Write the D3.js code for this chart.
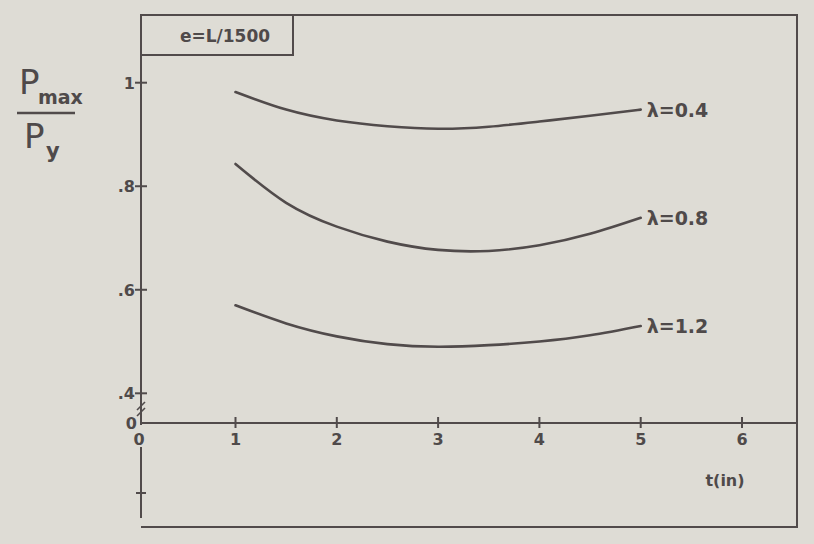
<!DOCTYPE html>
<html>
<head>
<meta charset="utf-8">
<script src="https://cdn.jsdelivr.net/npm/d3@7"></script>
<style>
  body { margin: 0; background: #dedcd5; }
  svg { display: block; }
  text { font-family: "DejaVu Sans", sans-serif; fill: #4f4a4a; }
</style>
</head>
<body>
<svg width="814" height="544"></svg>
<script>
// t (in)
var tValues = [1, 1.5, 2, 2.5, 3, 3.5, 4, 4.5, 5];
// Pmax / Py for each slenderness
var lam04 = [0.982, 0.948, 0.927, 0.916, 0.911, 0.915, 0.925, 0.936, 0.948];
var lam08 = [0.843, 0.768, 0.722, 0.693, 0.677, 0.675, 0.686, 0.708, 0.739];
var lam12 = [0.570, 0.535, 0.510, 0.495, 0.490, 0.493, 0.500, 0.512, 0.530];
var seriesLabels = ["λ=0.4", "λ=0.8", "λ=1.2"];
var xTicks = [0, 1, 2, 3, 4, 5, 6];
var yTicks = [0.4, 0.6, 0.8, 1];
var yTickLabels = [".4", ".6", ".8", "1"];
var boxLabel = "e=L/1500";

var ink = "#514b4b";
var svg = d3.select("svg");

// broken axes: 0 sits right on the frame, the y axis jumps from 0 to .4
var x = d3.scaleLinear().domain([0, 1, 6]).range([141, 235.5, 742]);
var y = d3.scaleLinear().domain([0, 0.4, 1]).range([423, 393.3, 82.7]);

var fLeft = 141, fRight = 797, fTop = 15, fBottom = 527;

// frame
svg.append("path")
    .attr("d", "M" + fLeft + "," + fTop + "H" + fRight + "V" + fBottom + "H" + fLeft)
    .attr("fill", "none").attr("stroke", ink).attr("stroke-width", 2);
// y axis (upper part) and lower stub
svg.append("line").attr("x1", fLeft).attr("x2", fLeft).attr("y1", fTop).attr("y2", y(0) + 2)
    .attr("stroke", ink).attr("stroke-width", 2);
svg.append("line").attr("x1", fLeft).attr("x2", fLeft).attr("y1", 447).attr("y2", 518)
    .attr("stroke", ink).attr("stroke-width", 2);
svg.append("line").attr("x1", fLeft - 5).attr("x2", fLeft + 5).attr("y1", 493).attr("y2", 493)
    .attr("stroke", ink).attr("stroke-width", 2);

// x axis line
svg.append("line").attr("x1", fLeft).attr("x2", fRight).attr("y1", y(0)).attr("y2", y(0))
    .attr("stroke", ink).attr("stroke-width", 2.2);

// break marks on the y axis
[0, 6].forEach(function(o) {
  svg.append("line")
      .attr("x1", fLeft - 4).attr("y1", 410 + o)
      .attr("x2", fLeft + 4).attr("y2", 402 + o)
      .attr("stroke", ink).attr("stroke-width", 1.6);
});

// legend box
svg.append("rect").attr("x", fLeft).attr("y", fTop).attr("width", 152).attr("height", 40)
    .attr("fill", "none").attr("stroke", ink).attr("stroke-width", 2);
svg.append("text").attr("x", 225).attr("y", 42).attr("text-anchor", "middle")
    .style("font-size", "17px").style("font-weight", "bold")
    .text(boxLabel);

// y ticks
var yt = svg.append("g");
yt.selectAll("line").data(yTicks).enter().append("line")
    .attr("x1", fLeft - 6).attr("x2", fLeft + 6)
    .attr("y1", function(d) { return y(d); }).attr("y2", function(d) { return y(d); })
    .attr("stroke", ink).attr("stroke-width", 2);
yt.selectAll("text").data(yTicks).enter().append("text")
    .attr("x", fLeft - 6).attr("y", function(d) { return y(d) + 6; })
    .attr("text-anchor", "end")
    .style("font-size", "16px").style("font-weight", "bold")
    .text(function(d, i) { return yTickLabels[i]; });
svg.append("text").attr("x", fLeft - 4).attr("y", y(0) + 6).attr("text-anchor", "end")
    .style("font-size", "16px").style("font-weight", "bold").text("0");

// x ticks
var xt = svg.append("g");
xt.selectAll("line").data(xTicks.slice(1)).enter().append("line")
    .attr("x1", function(d) { return x(d); }).attr("x2", function(d) { return x(d); })
    .attr("y1", y(0) - 6).attr("y2", y(0) + 5)
    .attr("stroke", ink).attr("stroke-width", 2);
xt.selectAll("text").data(xTicks).enter().append("text")
    .attr("x", function(d) { return d === 0 ? x(d) - 2 : x(d); })
    .attr("y", y(0) + 22)
    .attr("text-anchor", "middle")
    .style("font-size", "16px").style("font-weight", "bold")
    .text(function(d) { return d; });

svg.append("text").attr("x", 725).attr("y", 486).attr("text-anchor", "middle")
    .style("font-size", "16px").style("font-weight", "bold").text("t(in)");

// y axis title Pmax / Py
var yl = svg.append("g");
yl.append("text").attr("x", 19).attr("y", 94).style("font-size", "34px").text("P");
yl.append("text").attr("x", 38).attr("y", 104).style("font-size", "19px").style("font-weight", "bold").text("max");
yl.append("line").attr("x1", 17).attr("x2", 75).attr("y1", 113).attr("y2", 113)
    .attr("stroke", ink).attr("stroke-width", 2.5);
yl.append("text").attr("x", 24).attr("y", 148).style("font-size", "34px").text("P");
yl.append("text").attr("x", 46).attr("y", 158).style("font-size", "21px").style("font-weight", "bold").text("y");

// curves
var line = d3.line()
    .x(function(d) { return x(d[0]); })
    .y(function(d) { return y(d[1]); })
    .curve(d3.curveNatural);

var series = [lam04, lam08, lam12];
series.forEach(function(vals, i) {
  var pts = tValues.map(function(t, j) { return [t, vals[j]]; });
  svg.append("path").datum(pts)
      .attr("d", line)
      .attr("fill", "none").attr("stroke", ink).attr("stroke-width", 2.6)
      .attr("stroke-linecap", "round");
  var last = pts[pts.length - 1];
  svg.append("text")
      .attr("x", x(last[0]) + 6).attr("y", y(last[1]) + 7)
      .style("font-size", "19px").style("font-weight", "bold")
      .text(seriesLabels[i]);
});
</script>
</body>
</html>
